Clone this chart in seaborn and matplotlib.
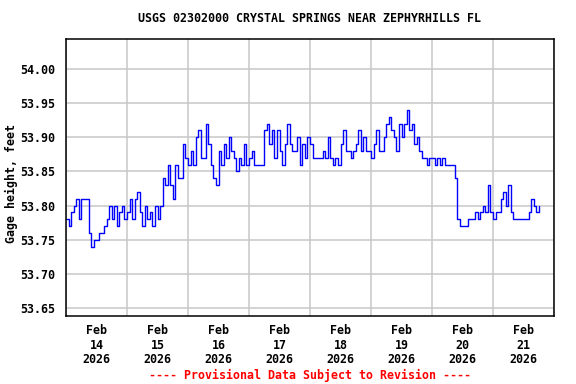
import matplotlib
matplotlib.use("Agg")
import matplotlib.pyplot as plt
import matplotlib.dates as mdates
import matplotlib.ticker as mticker
import pandas as pd
import seaborn as sns

title = "USGS 02302000 CRYSTAL SPRINGS NEAR ZEPHYRHILLS FL"
ylabel = "Gage height, feet"
footer = "---- Provisional Data Subject to Revision ----"
start_time = "2026-02-14 00:00"
y_ticks = [53.65, 53.70, 53.75, 53.80, 53.85, 53.90, 53.95, 54.00]

# hourly gage height readings (feet), one list per day
feb14 = [53.78, 53.77, 53.79, 53.80, 53.81, 53.78, 53.81, 53.81, 53.81, 53.76, 53.74, 53.75,
         53.75, 53.76, 53.76, 53.77, 53.78, 53.80, 53.78, 53.80, 53.77, 53.79, 53.80, 53.78]
feb15 = [53.79, 53.81, 53.78, 53.81, 53.82, 53.79, 53.77, 53.80, 53.78, 53.79, 53.77, 53.80,
         53.78, 53.80, 53.84, 53.83, 53.86, 53.83, 53.81, 53.86, 53.84, 53.84, 53.89, 53.87]
feb16 = [53.86, 53.88, 53.86, 53.90, 53.91, 53.87, 53.87, 53.92, 53.89, 53.86, 53.84, 53.83,
         53.88, 53.86, 53.89, 53.87, 53.90, 53.88, 53.87, 53.85, 53.87, 53.86, 53.89, 53.86]
feb17 = [53.87, 53.88, 53.86, 53.86, 53.86, 53.86, 53.91, 53.92, 53.89, 53.91, 53.87, 53.91,
         53.88, 53.86, 53.89, 53.92, 53.89, 53.88, 53.88, 53.90, 53.86, 53.89, 53.87, 53.90]
feb18 = [53.89, 53.87, 53.87, 53.87, 53.87, 53.88, 53.87, 53.90, 53.87, 53.86, 53.87, 53.86,
         53.89, 53.91, 53.88, 53.88, 53.87, 53.88, 53.89, 53.91, 53.88, 53.90, 53.88, 53.88]
feb19 = [53.87, 53.89, 53.91, 53.88, 53.88, 53.90, 53.92, 53.93, 53.91, 53.90, 53.88, 53.92,
         53.90, 53.92, 53.94, 53.91, 53.92, 53.89, 53.90, 53.88, 53.87, 53.87, 53.86, 53.87]
feb20 = [53.87, 53.86, 53.87, 53.86, 53.87, 53.86, 53.86, 53.86, 53.86, 53.84, 53.78, 53.77,
         53.77, 53.77, 53.78, 53.78, 53.78, 53.79, 53.78, 53.79, 53.80, 53.79, 53.83, 53.79]
feb21 = [53.78, 53.79, 53.79, 53.81, 53.82, 53.80, 53.83, 53.79, 53.78, 53.78, 53.78, 53.78,
         53.78, 53.78, 53.79, 53.81, 53.80, 53.79, 53.80]

values = feb14 + feb15 + feb16 + feb17 + feb18 + feb19 + feb20 + feb21
times = pd.date_range(start_time, periods=len(values), freq="h")
df = pd.DataFrame({"time": times, "gage": values})

sns.set_style("white")
plt.rcParams["font.family"] = ["DejaVu Sans Mono", "DejaVu Sans"]
plt.rcParams["font.weight"] = "bold"
for key in ["text.color", "axes.labelcolor", "xtick.color", "ytick.color"]:
    plt.rcParams[key] = "black"

fig = plt.figure(figsize=(5.76, 3.84), dpi=100)
ax = fig.add_axes([66 / 576, 1 - 316 / 384, (554 - 66) / 576, (316 - 39) / 384])

sns.lineplot(data=df, x="time", y="gage", ax=ax, color="#0000ff", linewidth=1.0,
             drawstyle="steps-post", estimator=None)

ax.set_xlim(pd.Timestamp("2026-02-14 00:00"), pd.Timestamp("2026-02-22 00:00"))
ax.set_ylim(53.6383, 54.0439)

fs = 8.4
ax.set_yticks(y_ticks)
ax.yaxis.set_major_formatter(mticker.FormatStrFormatter("%.2f"))
ax.xaxis.set_major_locator(mdates.HourLocator(byhour=[12]))
ax.xaxis.set_major_formatter(mdates.DateFormatter("%b\n%d\n%Y"))
ax.xaxis.set_minor_locator(mdates.HourLocator(byhour=[0]))

ax.tick_params(axis="both", which="both", length=0, labelsize=fs)
ax.tick_params(axis="y", pad=8)
ax.tick_params(axis="x", pad=6)
for lab in ax.get_xticklabels() + ax.get_yticklabels():
    lab.set_fontweight("bold")
    lab.set_linespacing(1.15)

ax.grid(False)
ax.yaxis.grid(True, which="major", color="#c8c8c8", linewidth=1.1)
ax.xaxis.grid(True, which="minor", color="#c8c8c8", linewidth=1.1)
ax.set_axisbelow(True)

for sp in ax.spines.values():
    sp.set_visible(True)
    sp.set_color("black")
    sp.set_linewidth(1.1)

ax.set_xlabel("")
ax.set_ylabel(ylabel, fontsize=fs, fontweight="bold", labelpad=0)
ax.yaxis.set_label_coords(-48 / 488, 0.48)

fig.text(310 / 576, 1 - 19 / 384, title, ha="center", va="center", fontsize=fs, fontweight="bold")
fig.text(310 / 576, 1 - 375 / 384, footer, ha="center", va="center", fontsize=fs,
         fontweight="bold", color="#ff0000")

fig.savefig("out.png", dpi=100, facecolor="white")
